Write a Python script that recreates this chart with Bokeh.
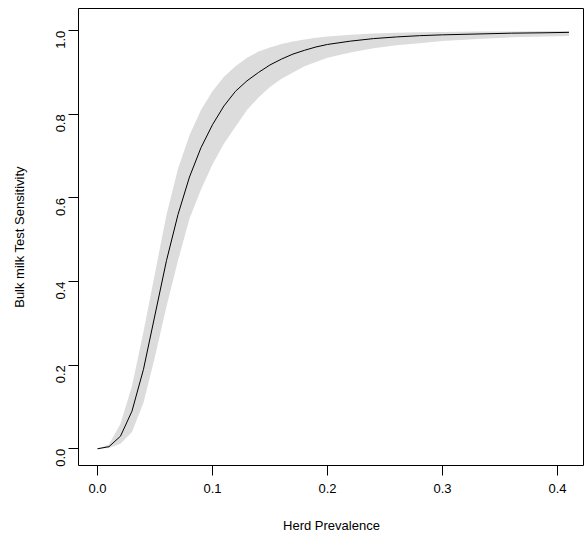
import math
from bokeh.plotting import figure
from bokeh.models import Range1d, FixedTicker, PrintfTickFormatter
from bokeh.embed import file_html
from bokeh.resources import INLINE

prev = [0.0, 0.01, 0.02, 0.03, 0.04, 0.05, 0.06, 0.07, 0.08, 0.09, 0.10, 0.11, 0.12, 0.13,
        0.14, 0.15, 0.16, 0.17, 0.18, 0.19, 0.20, 0.22, 0.24, 0.26, 0.28, 0.30, 0.33, 0.36, 0.39, 0.41]
sens = [0.0, 0.005, 0.03, 0.09, 0.19, 0.32, 0.45, 0.56, 0.65, 0.72, 0.775, 0.82, 0.855, 0.88,
        0.90, 0.918, 0.932, 0.944, 0.953, 0.961, 0.967, 0.975, 0.981, 0.985, 0.988, 0.990, 0.992, 0.994, 0.995, 0.996]
upper = [0.0, 0.01, 0.06, 0.15, 0.28, 0.42, 0.56, 0.67, 0.75, 0.81, 0.855, 0.89, 0.915, 0.935,
         0.95, 0.96, 0.968, 0.974, 0.979, 0.983, 0.986, 0.990, 0.993, 0.995, 0.996, 0.997, 0.998, 0.998, 0.999, 0.999]
lower = [0.0, 0.002, 0.012, 0.04, 0.11, 0.22, 0.34, 0.45, 0.55, 0.62, 0.68, 0.73, 0.77, 0.81,
         0.84, 0.865, 0.885, 0.90, 0.915, 0.925, 0.935, 0.948, 0.958, 0.965, 0.970, 0.975, 0.980, 0.984, 0.986, 0.987]

p = figure(width=584, height=536, output_backend="svg", toolbar_location=None,
           x_range=Range1d(-0.0165, 0.4235), y_range=Range1d(-0.04, 1.053),
           min_border_left=78, min_border_right=0, min_border_top=8, min_border_bottom=71,
           x_axis_label="Herd Prevalence", y_axis_label="Bulk milk Test Sensitivity")
p.grid.visible = False
p.outline_line_color = "black"
p.background_fill_color = "white"

p.varea(x=prev, y1=lower, y2=upper, fill_color="#dcdcdc")
p.line(prev, sens, line_color="black", line_width=1)

p.xaxis.ticker = FixedTicker(ticks=[0.0, 0.1, 0.2, 0.3, 0.4])
p.yaxis.ticker = FixedTicker(ticks=[0.0, 0.2, 0.4, 0.6, 0.8, 1.0])
p.xaxis.formatter = PrintfTickFormatter(format="%.1f")
p.yaxis.formatter = PrintfTickFormatter(format="%.1f")
p.yaxis.major_label_orientation = math.pi / 2
for ax in (p.xaxis[0], p.yaxis[0]):
    ax.axis_line_color = None
    ax.minor_tick_line_color = None
    ax.major_tick_out = 10
    ax.major_tick_in = 0
    ax.major_tick_line_color = "black"
    ax.major_label_text_font = "Liberation Sans"
    ax.major_label_text_font_size = "13px"
    ax.major_label_text_color = "black"
    ax.axis_label_text_font = "Liberation Sans"
    ax.axis_label_text_font_size = "13px"
    ax.axis_label_text_font_style = "normal"
    ax.axis_label_text_color = "black"
    ax.major_label_standoff = 8
    ax.axis_label_standoff = 22

open("out.html", "w").write(file_html(p, INLINE))
